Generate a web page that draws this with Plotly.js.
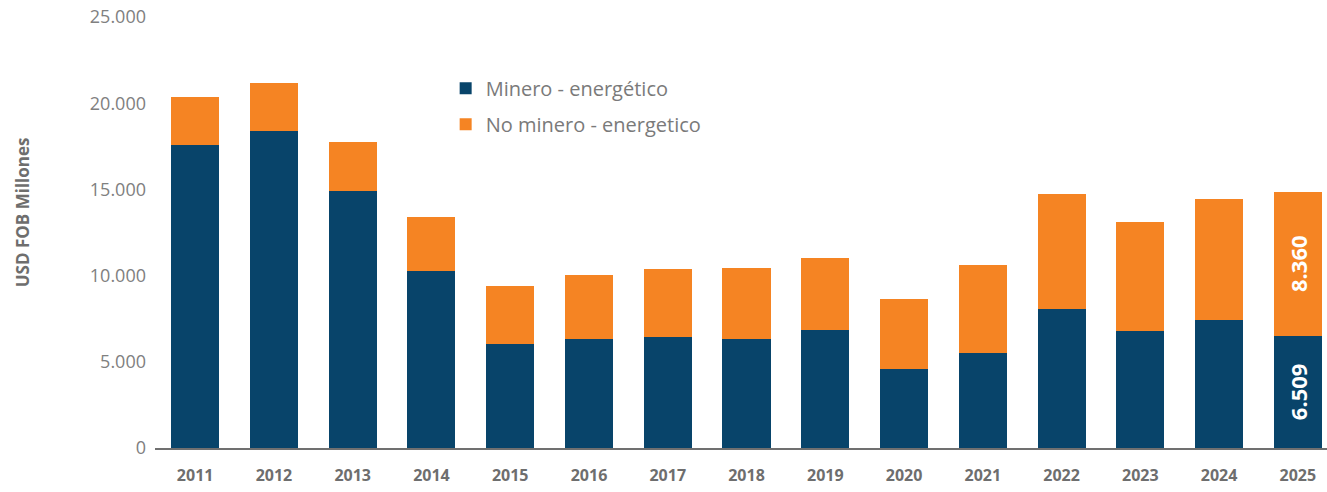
<!DOCTYPE html>
<html>
<head>
<meta charset="utf-8">
<script src="https://cdn.plot.ly/plotly-3.0.1.min.js"></script>
<style>
  html, body { margin: 0; padding: 0; background: #fff; }
  #chart { width: 1327px; height: 492px; }
</style>
</head>
<body>
<div id="chart"></div>
<script>
// Exports by year, USD FOB millions
const years = ['2011', '2012', '2013', '2014', '2015', '2016', '2017', '2018',
  '2019', '2020', '2021', '2022', '2023', '2024', '2025'];
const mineroEnergetico = [17560, 18380, 14900, 10260, 6030, 6320, 6430, 6320,
  6840, 4580, 5510, 8060, 6780, 7420, 6509];
const noMineroEnergetico = [2790, 2780, 2840, 3130, 3360, 3710, 3950, 4120,
  4170, 4060, 5100, 6670, 6320, 7020, 8360];
const labeledYear = '2025';

const FONT = '"Open Sans", sans-serif';
const fmt = v => v.toLocaleString('de-DE');

// only the last year carries value labels
const labelsFor = values => values.map((v, i) => years[i] === labeledYear ? fmt(v) : '');

const barText = {
  textangle: -90,
  textposition: 'inside',
  insidetextanchor: 'middle',
  insidetextfont: { family: FONT, size: 22, color: '#ffffff', weight: 'bold' },
  hoverinfo: 'x+y'
};

const traces = [
  {
    type: 'bar',
    name: 'Minero - energético',
    x: years,
    y: mineroEnergetico,
    text: labelsFor(mineroEnergetico),
    marker: { color: '#08446a' },
    legendgroup: 'a',
    ...barText
  },
  {
    type: 'bar',
    name: 'No minero - energetico',
    x: years,
    y: noMineroEnergetico,
    text: labelsFor(noMineroEnergetico),
    marker: { color: '#f58423' },
    legendgroup: 'b',
    ...barText
  }
];

const layout = {
  width: 1327,
  height: 492,
  margin: { t: 17, l: 155, r: 0, b: 44 },
  barmode: 'stack',
  bargap: 0.39,
  separators: ',.',
  plot_bgcolor: '#fff',
  paper_bgcolor: '#fff',
  font: { family: FONT, color: '#7a7a7a' },
  showlegend: true,
  legend: {
    x: 0.248,
    y: 0.88,
    xanchor: 'left',
    yanchor: 'top',
    traceorder: 'grouped',
    tracegroupgap: 7,
    font: { family: FONT, size: 20, color: '#7a7a7a' },
    bgcolor: 'rgba(0,0,0,0)'
  },
  xaxis: {
    type: 'category',
    range: [-0.51, 14.37],
    showline: true,
    linecolor: '#707070',
    linewidth: 2,
    ticks: '',
    showgrid: false,
    ticklabelstandoff: 12,
    tickfont: { family: FONT, size: 16, color: '#6e6e6e', weight: 'bold' }
  },
  yaxis: {
    range: [0, 25000],
    dtick: 5000,
    tickformat: ',d',
    showgrid: false,
    zeroline: false,
    ticks: '',
    ticklabelstandoff: 8,
    tickfont: { family: FONT, size: 18, color: '#808080' }
  },
  annotations: [{
    text: 'USD FOB Millones',
    xref: 'paper',
    yref: 'paper',
    x: -0.113,
    y: 0.546,
    xanchor: 'center',
    yanchor: 'middle',
    textangle: -90,
    showarrow: false,
    font: { family: FONT, size: 17, color: '#6e6e6e', weight: 'bold' }
  }]
};

Plotly.newPlot('chart', traces, layout, { displayModeBar: false, staticPlot: true });
</script>
</body>
</html>
